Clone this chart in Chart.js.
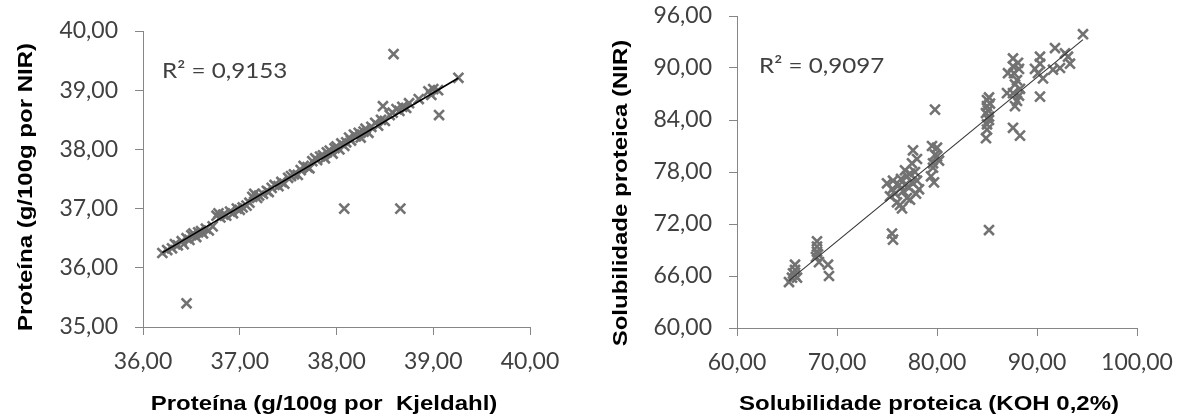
<!DOCTYPE html>
<html lang="pt">
<head>
<meta charset="utf-8">
<script src="https://cdn.jsdelivr.net/npm/chart.js@4.4.1/dist/chart.umd.min.js"></script>
<style>
  html, body { margin: 0; padding: 0; background: #fff; }
  body { width: 1185px; height: 418px; position: relative; overflow: hidden; }
  canvas { position: absolute; top: 0; }
  #protChart { left: 0; }
  #solChart { left: 590px; }
</style>
</head>
<body>
<canvas id="protChart" width="590" height="418"></canvas>
<canvas id="solChart" width="595" height="418"></canvas>
<script>
// Proteína (g/100g): Kjeldahl (x) vs NIR (y)
const protKjeldahl = [
  36.20, 36.25, 36.30, 36.33, 36.36, 36.40, 36.42, 36.45, 36.48, 36.50,
  36.52, 36.55, 36.57, 36.60, 36.62, 36.65, 36.68, 36.72, 36.76, 36.78,
  36.80, 36.83, 36.86, 36.90, 36.93, 36.97, 37.00, 37.03, 37.07, 37.10,
  37.13, 37.15, 37.18, 37.20, 37.24, 37.28, 37.30, 37.33, 37.36, 37.40,
  37.43, 37.46, 37.50, 37.53, 37.56, 37.60, 37.63, 37.66, 37.70, 37.72,
  37.75, 37.78, 37.80, 37.83, 37.86, 37.88, 37.90, 37.93, 37.96, 37.98,
  38.00, 38.03, 38.05, 38.08, 38.10, 38.13, 38.15, 38.18, 38.20, 38.23,
  38.25, 38.28, 38.30, 38.33, 38.36, 38.40, 38.43, 38.46, 38.50, 38.55,
  38.58, 38.62, 38.65, 38.68, 38.72, 38.75, 38.85, 38.95, 38.98, 39.00,
  39.05, 39.26,
  36.45, 38.08, 38.66, 38.59, 39.06, 38.48
];
const protNir = [
  36.25, 36.30, 36.33, 36.40, 36.38, 36.45, 36.40, 36.50, 36.47, 36.55,
  36.58, 36.52, 36.60, 36.62, 36.58, 36.66, 36.63, 36.70, 36.88, 36.92,
  36.85, 36.90, 36.88, 36.95, 36.92, 37.00, 36.98, 37.02, 37.05, 37.10,
  37.20, 37.25, 37.18, 37.22, 37.25, 37.30, 37.28, 37.35, 37.40, 37.38,
  37.45, 37.42, 37.52, 37.55, 37.58, 37.57, 37.65, 37.72, 37.70, 37.68,
  37.80, 37.85, 37.82, 37.88, 37.90, 37.85, 37.95, 37.98, 37.93, 38.02,
  38.05, 38.00, 38.10, 38.06, 38.12, 38.20, 38.15, 38.25, 38.22, 38.28,
  38.20, 38.30, 38.35, 38.28, 38.38, 38.45, 38.40, 38.50, 38.48, 38.58,
  38.62, 38.68, 38.65, 38.72, 38.70, 38.78, 38.85, 38.98, 38.92, 39.02,
  39.00, 39.21,
  35.40, 37.00, 37.00, 39.61, 38.58, 38.73
];
const protTrend = { slope: 0.964, intercept: 1.36 };
const protR2 = 'R\u00b2 = 0,9153';
const protXTicks = [36, 37, 38, 39, 40];
const protYTicks = [35, 36, 37, 38, 39, 40];

// Solubilidade proteica (%): KOH 0,2% (x) vs NIR (y)
const solKoh = [
  65.2, 65.5, 65.8, 65.8, 65.8, 66.0, 65.6,
  68.0, 68.0, 68.0, 67.9, 68.2, 69.1, 69.2, 68.1,
  75.5, 75.6, 85.2, 79.8,
  75.0, 75.3, 75.5, 75.6, 75.8, 76.0, 76.3, 76.5, 76.2, 76.4,
  76.6, 76.8, 77.0, 77.0, 77.2, 77.3, 77.5, 77.5, 77.6, 77.8,
  78.0, 78.0, 78.2, 77.3, 76.8, 77.9,
  79.4, 79.6, 79.6, 79.8, 80.0, 80.0, 79.5, 80.2, 79.7,
  85.0, 85.0, 85.1, 85.2, 85.2, 85.0, 85.0, 84.9, 85.2, 85.3, 84.9,
  87.6, 87.6, 87.7, 88.0, 87.6, 87.0, 87.1, 87.8, 88.1, 88.2,
  88.3, 88.0, 87.8, 87.6, 88.3, 88.2,
  90.3, 90.3, 90.1, 90.6, 90.3, 89.8,
  91.8, 91.6, 92.3, 92.8, 93.1, 93.3, 94.6
];
const solNir = [
  65.3, 65.8, 66.1, 66.7, 67.3, 65.8, 66.3,
  70.0, 69.4, 68.8, 68.2, 67.6, 67.3, 66.0, 68.5,
  70.9, 70.2, 71.3, 85.2,
  76.7, 75.2, 76.0, 77.0, 75.5, 74.5, 74.2, 73.8, 76.5, 77.2,
  75.8, 76.5, 77.5, 75.0, 76.2, 77.8, 76.8, 79.0, 80.5, 78.0,
  77.0, 79.5, 76.0, 74.8, 78.2, 75.5,
  77.5, 78.5, 79.0, 80.0, 79.8, 80.8, 81.0, 79.3, 76.8,
  86.3, 85.6, 85.1, 84.4, 84.0, 83.5, 82.9, 81.9, 86.6, 85.9, 84.8,
  91.1, 90.2, 89.4, 88.6, 87.1, 87.1, 89.4, 88.1, 90.6, 89.9,
  87.6, 86.2, 85.6, 83.1, 82.2, 86.8,
  91.3, 90.5, 89.4, 88.8, 86.7, 89.9,
  92.3, 89.8, 90.0, 91.7, 91.3, 90.5, 93.9
];
const solTrend = { slope: 0.946, intercept: 3.79 };
const solR2 = 'R\u00b2 = 0,9097';
const solXTicks = [60, 70, 80, 90, 100];
const solYTicks = [60, 66, 72, 78, 84, 90, 96];

const AXIS_GREY = '#868686';
const TICK_TEXT = '#404040';
const MARKER_GREY = '#727272';

function fmtComma(v) {
  return Number(v).toFixed(2).replace('.', ',');
}

function toPoints(xs, ys) {
  return xs.map((x, i) => ({ x: x, y: ys[i] }));
}

// trendline spans the observed x range, like a spreadsheet linear fit
function trendPoints(xs, trend) {
  const lo = Math.min(...xs);
  const hi = Math.max(...xs);
  return [lo, hi].map(x => ({ x: x, y: trend.slope * x + trend.intercept }));
}

// axis captions and the R² note are drawn by hand so they can sit exactly where wanted
const captionPlugin = {
  id: 'captions',
  afterDraw(chart, args, opts) {
    const ctx = chart.ctx;
    ctx.save();
    ctx.fillStyle = '#000';
    ctx.font = 'bold 20px "Liberation Sans", Arial, sans-serif';
    ctx.textAlign = 'center';
    ctx.textBaseline = 'middle';

    ctx.save();
    ctx.translate(opts.x.cx, opts.x.cy);
    ctx.scale(opts.stretch, 1);
    ctx.fillText(opts.x.text, 0, 0);
    ctx.restore();

    ctx.save();
    ctx.translate(opts.y.cx, opts.y.cy);
    ctx.rotate(-Math.PI / 2);
    ctx.scale(opts.stretch, 1);
    ctx.fillText(opts.y.text, 0, 0);
    ctx.restore();

    ctx.fillStyle = TICK_TEXT;
    ctx.font = '22px Lato, "Open Sans", sans-serif';
    ctx.textAlign = 'left';
    ctx.textBaseline = 'alphabetic';
    ctx.translate(opts.note.x, opts.note.y);
    ctx.scale(opts.noteStretch, 1);
    ctx.fillText(opts.note.text, 0, 0);
    ctx.restore();
  }
};

function makeScale(min, max, ticks, isX, boxSize) {
  return {
    type: 'linear',
    min: min,
    max: max,
    afterBuildTicks: (scale) => { scale.ticks = ticks.map(v => ({ value: v })); },
    afterFit: (scale) => {
      // the plot box is fixed, so label overhang must not push it around
      scale.paddingTop = 0;
      scale.paddingBottom = 0;
      scale.paddingLeft = 0;
      scale.paddingRight = 0;
      if (isX) scale.height = boxSize; else scale.width = boxSize;
    },
    grid: {
      display: true,
      drawOnChartArea: false,
      drawTicks: true,
      tickLength: 8,
      color: AXIS_GREY,
      lineWidth: 1
    },
    border: { display: true, color: AXIS_GREY, width: 1 },
    ticks: {
      color: TICK_TEXT,
      font: { family: 'Lato, "Open Sans", sans-serif', size: 23 },
      padding: isX ? 13 : 17,
      maxRotation: 0,
      autoSkip: false,
      callback: fmtComma
    },
    title: { display: false }
  };
}

function buildChart(canvasId, cfg) {
  return new Chart(document.getElementById(canvasId), {
    type: 'scatter',
    data: {
      datasets: [
        {
          label: 'tendência',
          data: trendPoints(cfg.xs, cfg.trend),
          showLine: true,
          borderColor: cfg.lineColor,
          borderWidth: cfg.lineWidth,
          pointRadius: 0,
          order: 0
        },
        {
          label: 'amostras',
          data: toPoints(cfg.xs, cfg.ys),
          pointStyle: 'crossRot',
          pointRadius: 7,
          pointBorderWidth: 2.6,
          pointBorderColor: MARKER_GREY,
          pointBackgroundColor: MARKER_GREY,
          showLine: false,
          order: 1
        }
      ]
    },
    options: {
      responsive: false,
      devicePixelRatio: 1,
      animation: false,
      layout: { padding: cfg.padding },
      scales: {
        x: makeScale(cfg.xRange[0], cfg.xRange[1], cfg.xTicks, true, cfg.xBox),
        y: makeScale(cfg.yRange[0], cfg.yRange[1], cfg.yTicks, false, cfg.yBox)
      },
      plugins: {
        legend: { display: false },
        tooltip: { enabled: false },
        captions: cfg.captions
      }
    },
    plugins: [captionPlugin]
  });
}

buildChart('protChart', {
  xs: protKjeldahl,
  ys: protNir,
  trend: protTrend,
  lineColor: '#000000',
  lineWidth: 1.6,
  xRange: [36, 40],
  yRange: [35, 40],
  xTicks: protXTicks,
  yTicks: protYTicks,
  xBox: 91,
  yBox: 143,
  padding: { left: 0, top: 31, right: 60, bottom: 0 },
  captions: {
    stretch: 1.2,
    noteStretch: 1.1,
    x: { text: 'Proteína (g/100g por  Kjeldahl)', cx: 324, cy: 404 },
    y: { text: 'Proteína (g/100g por NIR)', cx: 26, cy: 187 },
    note: { text: protR2, x: 162, y: 78 }
  }
});

buildChart('solChart', {
  xs: solKoh,
  ys: solNir,
  trend: solTrend,
  lineColor: '#333333',
  lineWidth: 1.1,
  xRange: [60, 100],
  yRange: [60, 96],
  xTicks: solXTicks,
  yTicks: solYTicks,
  xBox: 90,
  yBox: 147,
  padding: { left: 0, top: 16, right: 48, bottom: 0 },
  captions: {
    stretch: 1.2,
    noteStretch: 1.1,
    x: { text: 'Solubilidade proteica (KOH 0,2%)', cx: 339, cy: 404 },
    y: { text: 'Solubilidade proteica (NIR)', cx: 31, cy: 193 },
    note: { text: solR2, x: 169, y: 73 }
  }
});
</script>
</body>
</html>
